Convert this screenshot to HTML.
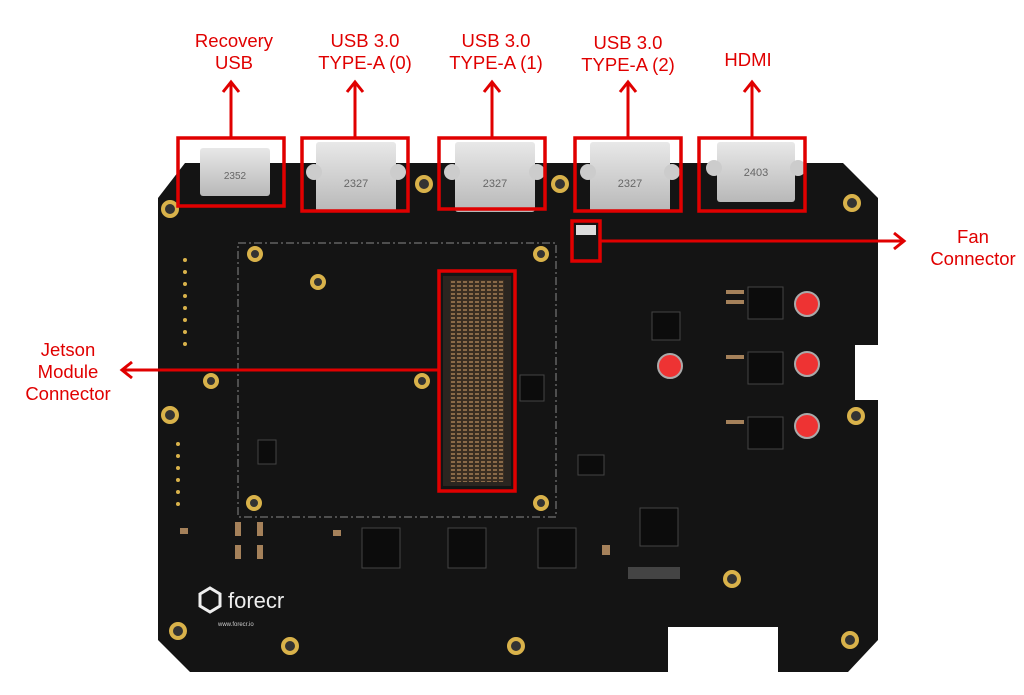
<!DOCTYPE html>
<html><head><meta charset="utf-8"><style>
body{margin:0;width:1024px;height:695px;background:#fff;overflow:hidden;position:relative;font-family:"Liberation Sans",sans-serif}
.lbl{position:absolute;color:#e00000;font-size:18.5px;text-align:center;line-height:22px;width:150px}
</style></head><body>
<svg width="1024" height="695" style="position:absolute;left:0;top:0">
<defs>
<linearGradient id="sil" x1="0" y1="0" x2="0" y2="1"><stop offset="0" stop-color="#e8e8e8"/><stop offset="1" stop-color="#b8b8b8"/></linearGradient>
<pattern id="pins" width="6" height="4" patternUnits="userSpaceOnUse"><rect width="6" height="4" fill="#3a2e22"/><rect x="1" y="1" width="4" height="2" fill="#8a6a48"/></pattern>
</defs>
<polygon fill="#141414" points="185,163 843,163 878,198 878,345 855,345 855,400 878,400 878,640 848,672 778,672 778,627 668,627 668,672 190,672 158,640 158,198"/>
<rect x="238" y="243" width="318" height="274" fill="none" stroke="#888" stroke-width="1" stroke-dasharray="8,3,2,3"/>
<g>
<rect x="200" y="148" width="70" height="48" rx="3" fill="url(#sil)"/>
<rect x="316" y="142" width="80" height="70" rx="3" fill="url(#sil)"/><circle cx="314" cy="172" r="8" fill="#ccc"/><circle cx="398" cy="172" r="8" fill="#ccc"/>
<rect x="455" y="142" width="80" height="70" rx="3" fill="url(#sil)"/><circle cx="452" cy="172" r="8" fill="#ccc"/><circle cx="537" cy="172" r="8" fill="#ccc"/>
<rect x="590" y="142" width="80" height="70" rx="3" fill="url(#sil)"/><circle cx="588" cy="172" r="8" fill="#ccc"/><circle cx="672" cy="172" r="8" fill="#ccc"/>
<rect x="717" y="142" width="78" height="60" rx="3" fill="url(#sil)"/><circle cx="714" cy="168" r="8" fill="#ccc"/><circle cx="798" cy="168" r="8" fill="#ccc"/>
<text x="235" y="179" font-size="10" text-anchor="middle" fill="#666" font-family="Liberation Sans">2352</text>
<text x="356" y="187" font-size="11" text-anchor="middle" fill="#666" font-family="Liberation Sans">2327</text>
<text x="495" y="187" font-size="11" text-anchor="middle" fill="#666" font-family="Liberation Sans">2327</text>
<text x="630" y="187" font-size="11" text-anchor="middle" fill="#666" font-family="Liberation Sans">2327</text>
<text x="756" y="176" font-size="11" text-anchor="middle" fill="#666" font-family="Liberation Sans">2403</text>
</g>
<rect x="443" y="276" width="68" height="210" fill="#2a2520"/>
<rect x="450" y="280" width="54" height="202" fill="url(#pins)"/>
<g fill="#333" stroke="#d9b24a" stroke-width="4">
<circle cx="170" cy="209" r="7"/><circle cx="424" cy="184" r="7"/><circle cx="560" cy="184" r="7"/><circle cx="852" cy="203" r="7"/>
<circle cx="255" cy="254" r="6"/><circle cx="318" cy="282" r="6"/><circle cx="541" cy="254" r="6"/>
<circle cx="211" cy="381" r="6"/><circle cx="422" cy="381" r="6"/><circle cx="170" cy="415" r="7"/><circle cx="856" cy="416" r="7"/>
<circle cx="254" cy="503" r="6"/><circle cx="541" cy="503" r="6"/><circle cx="732" cy="579" r="7"/>
<circle cx="178" cy="631" r="7"/><circle cx="290" cy="646" r="7"/><circle cx="516" cy="646" r="7"/><circle cx="850" cy="640" r="7"/>
</g>
<g fill="#0c0c0c" stroke="#444">
<rect x="748" y="287" width="35" height="32"/><rect x="748" y="352" width="35" height="32"/><rect x="748" y="417" width="35" height="32"/>
<rect x="652" y="312" width="28" height="28"/><rect x="640" y="508" width="38" height="38"/>
<rect x="362" y="528" width="38" height="40"/><rect x="448" y="528" width="38" height="40"/><rect x="538" y="528" width="38" height="40"/>
<rect x="578" y="455" width="26" height="20"/><rect x="258" y="440" width="18" height="24"/><rect x="520" y="375" width="24" height="26"/>
</g>
<g fill="#e33" stroke="#aaa" stroke-width="2">
<circle cx="807" cy="304" r="12"/><circle cx="807" cy="364" r="12"/><circle cx="807" cy="426" r="12"/><circle cx="670" cy="366" r="12"/>
</g>
<g fill="#a5815a">
<rect x="235" y="522" width="6" height="14"/><rect x="257" y="522" width="6" height="14"/><rect x="235" y="545" width="6" height="14"/><rect x="257" y="545" width="6" height="14"/>
<rect x="726" y="290" width="18" height="4"/><rect x="726" y="300" width="18" height="4"/><rect x="726" y="355" width="18" height="4"/><rect x="726" y="420" width="18" height="4"/>
<rect x="180" y="528" width="8" height="6"/><rect x="333" y="530" width="8" height="6"/><rect x="602" y="545" width="8" height="10"/>
</g>
<g fill="#d9b24a"><circle cx="185" cy="260" r="2"/><circle cx="185" cy="272" r="2"/><circle cx="185" cy="284" r="2"/><circle cx="185" cy="296" r="2"/><circle cx="185" cy="308" r="2"/><circle cx="185" cy="320" r="2"/><circle cx="185" cy="332" r="2"/><circle cx="185" cy="344" r="2"/>
<circle cx="178" cy="444" r="2"/><circle cx="178" cy="456" r="2"/><circle cx="178" cy="468" r="2"/><circle cx="178" cy="480" r="2"/><circle cx="178" cy="492" r="2"/><circle cx="178" cy="504" r="2"/></g>
<rect x="628" y="567" width="52" height="12" fill="#444"/>
<text x="228" y="608" font-size="22" fill="#eee" font-family="Liberation Sans">forecr</text>
<polygon points="200,594 210,588 220,594 220,606 210,612 200,606" fill="none" stroke="#eee" stroke-width="3"/>
<text x="218" y="626" font-size="6" fill="#ccc" font-family="Liberation Sans">www.forecr.io</text>
<rect x="576" y="225" width="20" height="10" fill="#ddd"/>
<g fill="none" stroke="#e00000" stroke-width="3.5">
<rect x="178" y="138" width="106" height="68"/>
<rect x="302" y="138" width="106" height="73"/>
<rect x="439" y="138" width="106" height="71"/>
<rect x="575" y="138" width="106" height="73"/>
<rect x="699" y="138" width="106" height="73"/>
<rect x="572" y="221" width="28" height="40"/>
<rect x="439" y="271" width="76" height="220"/>
</g>
<g stroke="#e00000" stroke-width="3" fill="none">
<line x1="231" y1="137" x2="231" y2="82"/><polyline points="223,92 231,82 239,92"/>
<line x1="355" y1="137" x2="355" y2="82"/><polyline points="347,92 355,82 363,92"/>
<line x1="492" y1="137" x2="492" y2="82"/><polyline points="484,92 492,82 500,92"/>
<line x1="628" y1="137" x2="628" y2="82"/><polyline points="620,92 628,82 636,92"/>
<line x1="752" y1="137" x2="752" y2="82"/><polyline points="744,92 752,82 760,92"/>
<line x1="600" y1="241" x2="904" y2="241"/><polyline points="894,233 904,241 894,249"/>
<line x1="439" y1="370" x2="122" y2="370"/><polyline points="132,362 122,370 132,378"/>
</g>
</svg>
<div class="lbl" style="left:159px;top:30px">Recovery<br>USB</div>
<div class="lbl" style="left:290px;top:30px">USB 3.0<br>TYPE-A (0)</div>
<div class="lbl" style="left:421px;top:30px">USB 3.0<br>TYPE-A (1)</div>
<div class="lbl" style="left:553px;top:32px">USB 3.0<br>TYPE-A (2)</div>
<div class="lbl" style="left:673px;top:49px">HDMI</div>
<div class="lbl" style="left:898px;top:226px">Fan<br>Connector</div>
<div class="lbl" style="left:-7px;top:339px">Jetson<br>Module<br>Connector</div>
</body></html>
